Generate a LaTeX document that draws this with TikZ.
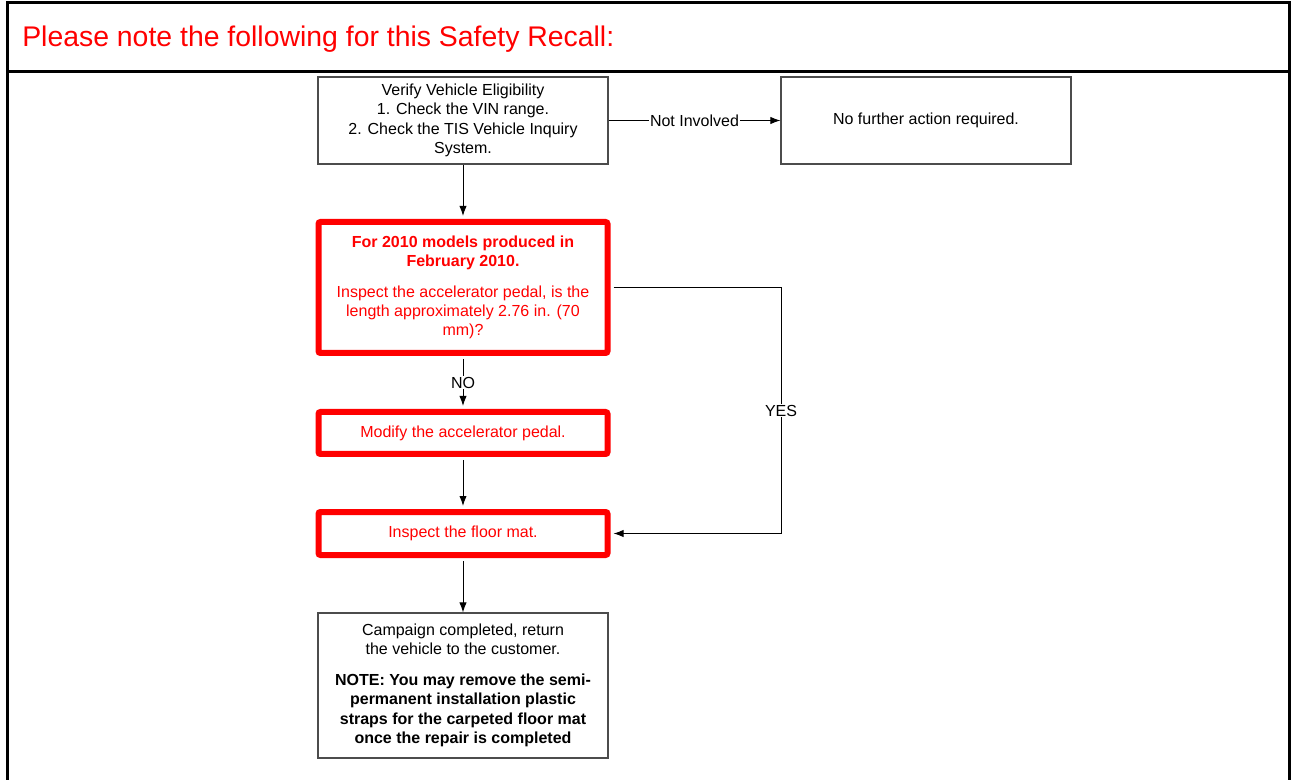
\documentclass[tikz,border=0pt]{standalone}
\usepackage{fontspec}
\setmainfont{Liberation Sans}
\usetikzlibrary{arrows.meta}
\definecolor{recallred}{RGB}{255,0,0}
\tikzset{
	plainbox/.style={draw=black!70,line width=0.8pt,inner sep=0pt,align=center,
		minimum width=217.5pt,font=\fontsize{12}{14.5}\selectfont},
	redbox/.style={draw=recallred,line width=4.5pt,rounded corners=1.5pt,inner sep=0pt,
		align=center,minimum width=216.75pt,text=recallred,font=\fontsize{12}{14.5}\selectfont},
	link/.style={line width=0.75pt,-{Latex[length=7.5pt,width=5.5pt]}},
	tag/.style={fill=white,inner sep=1pt,font=\fontsize{12}{14.5}\selectfont}
}
\begin{document}
\begin{tikzpicture}[x=0.75pt,y=-0.75pt]
\useasboundingbox (0,0) rectangle (1296,780);
% frame
\draw[line width=2.25pt] (7,780) -- (7,3) -- (1289,3) -- (1289,780);
\draw[line width=2.25pt] (7,72) -- (1289,72);
\node[anchor=west,text=recallred,font=\fontsize{21.3}{25}\selectfont,inner sep=0pt] (title) at (22,39)
	{Please note the following for this Safety Recall:};
\node[plainbox,minimum height=65.25pt] (verify) at (463,120.5)
	{Verify Vehicle Eligibility\\1. Check the VIN range.\\2. Check the TIS Vehicle Inquiry\\System.};
\node[plainbox,minimum height=65.25pt] (nofurther) at (926,120.5) {No further action required.};
\node[redbox,minimum height=98.25pt] (pedal) at (463,287.5)
	{\textbf{For 2010 models produced in}\\\textbf{February 2010.}\\[8.5pt]
	Inspect the accelerator pedal, is the\\length approximately 2.76 in. (70\\mm)?};
\node[redbox,minimum height=31.5pt] (modify) at (463,433) {Modify the accelerator pedal.};
\node[redbox,minimum height=32.25pt] (floormat) at (463,533.5) {Inspect the floor mat.};
\node[plainbox,minimum height=108.75pt] (done) at (463,685.5)
	{Campaign completed, return\\the vehicle to the customer.\\[8.5pt]
	\textbf{NOTE: You may remove the semi-}\\\textbf{permanent installation plastic}\\
	\textbf{straps for the carpeted floor mat}\\\textbf{once the repair is completed}};
\coordinate (yesbend) at (781,287.5);
\draw[link] (verify) -- node[tag]{Not Involved} (nofurther);
\draw[link,shorten >=2.25pt] (verify) -- (pedal);
\draw[link,shorten >=2.25pt,shorten <=2.25pt] (pedal) -- node[tag]{NO} (modify);
\draw[link,shorten >=2.25pt,shorten <=2.25pt] (modify) -- (floormat);
\draw[link,shorten <=2.25pt] (floormat) -- (done);
\draw[link,shorten >=2.25pt,shorten <=2.25pt] (pedal.east) -- (yesbend) |- node[tag,pos=0.25]{YES} (floormat.east);
\end{tikzpicture}
\end{document}
